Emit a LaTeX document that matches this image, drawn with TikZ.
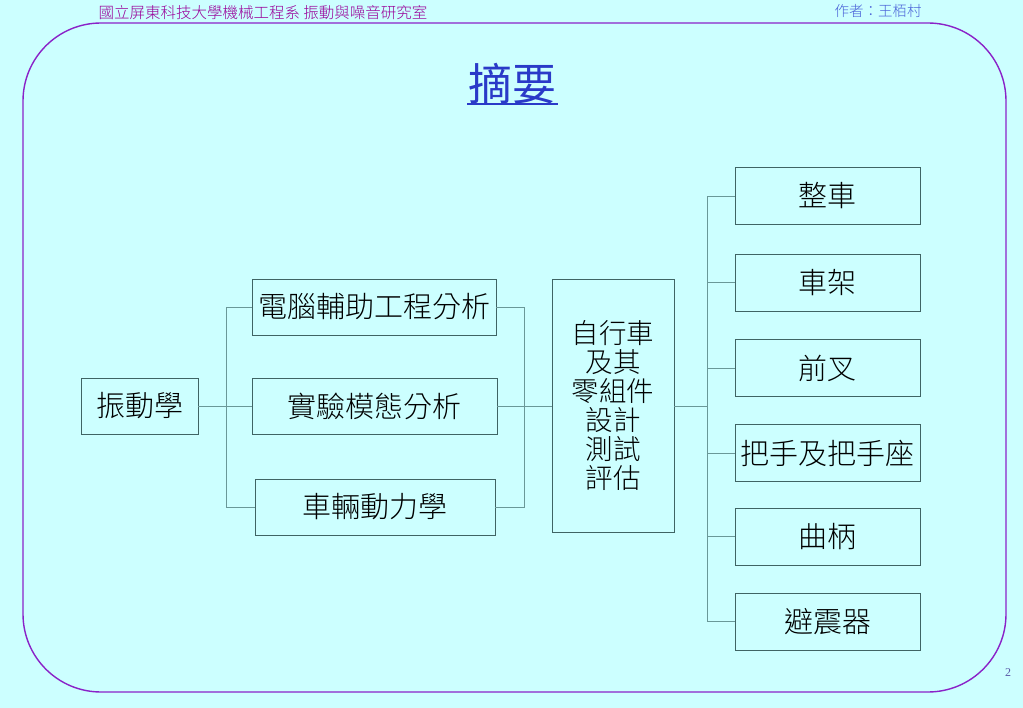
\documentclass[tikz,border=0pt]{standalone}
\usepackage{fontspec}
\newfontfamily\cjk{Noto Sans CJK TC Light}
\newfontfamily\cjkr{Noto Sans CJK TC}
\setmainfont{Liberation Serif}
\definecolor{bg}{HTML}{CCFFFF}
\definecolor{framec}{HTML}{8A22C8}
\definecolor{boxc}{HTML}{3F6464}
\definecolor{linkc}{HTML}{6A9898}
\definecolor{hdrc}{HTML}{990099}
\definecolor{authc}{HTML}{4A62D8}
\definecolor{titlec}{HTML}{2A3AC8}
\definecolor{pagec}{HTML}{5A5AA8}
\tikzset{
  box/.style={draw=boxc, line width=0.8pt, inner sep=0pt, align=center,
    font=\cjk\fontsize{29}{31}\selectfont, text=black},
  rbox/.style={box, minimum width=185pt, minimum height=57pt},
  link/.style={draw=linkc, line width=0.8pt},
}
\begin{document}
\begin{tikzpicture}[x=1pt,y=-1pt]
\useasboundingbox (0,0) rectangle (1023,708);
\fill[bg] (0,0) rectangle (1023,708);
% frame
\draw[framec, line width=1.4pt, rounded corners=78pt] (23,23) rectangle (1006,692);
% header
\node[text=hdrc, font=\cjk\fontsize{15.5}{16}\selectfont, inner sep=0pt] (hdr) at (263,13) {國立屏東科技大學機械工程系\ 振動與噪音研究室};
\node[text=authc, font=\cjk\fontsize{14.5}{15}\selectfont, inner sep=0pt] (auth) at (878,11) {作者：王栢村};
\node[text=pagec, font=\fontsize{12}{13}\selectfont, inner sep=0pt] (page) at (1008,673) {2};
% title
\node[text=titlec, font=\cjkr\fontsize{44}{46}\selectfont, inner sep=0pt] (title) at (512,84) {摘要};
\draw[titlec, line width=2pt] (467,104) -- (558,104);
% boxes
\node[box, minimum width=117pt, minimum height=56pt] (v) at (139.5,406) {振動學};
\node[box, minimum width=244pt, minimum height=56pt] (cae) at (374,307) {電腦輔助工程分析};
\node[box, minimum width=245pt, minimum height=56pt] (exp) at (374.5,406) {實驗模態分析};
\node[box, minimum width=240pt, minimum height=56pt] (veh) at (375,507) {車輛動力學};
\node[box, minimum width=122pt, minimum height=253pt, font=\cjk\fontsize{27.5}{29}\selectfont] (ctr) at (613,406) {自行車\\及其\\零組件\\設計\\測試\\評估};
\node[rbox] (r1) at (827.5,196) {整車};
\node[rbox] (r2) at (827.5,282.5) {車架};
\node[rbox] (r3) at (827.5,368) {前叉};
\node[rbox] (r4) at (827.5,453) {把手及把手座};
\node[rbox] (r5) at (827.5,536.5) {曲柄};
\node[rbox] (r6) at (827.5,621.5) {避震器};
% junctions
\coordinate (j1) at (226,406);
\coordinate (j2) at (524,406);
\coordinate (j3) at (707,406);
% connectors
\draw[link] (v.east) -- (exp.west);
\draw[link] (j1) |- (cae.west);
\draw[link] (j1) |- (veh.west);
\draw[link] (cae.east) -| (j2);
\draw[link] (veh.east) -| (j2);
\draw[link] (exp.east) -- (ctr.west);
\draw[link] (ctr.east) -- (j3);
\draw[link] (j3) |- (r1.west);
\draw[link] (j3) |- (r2.west);
\draw[link] (j3) |- (r3.west);
\draw[link] (j3) |- (r4.west);
\draw[link] (j3) |- (r5.west);
\draw[link] (j3) |- (r6.west);
\end{tikzpicture}
\end{document}
